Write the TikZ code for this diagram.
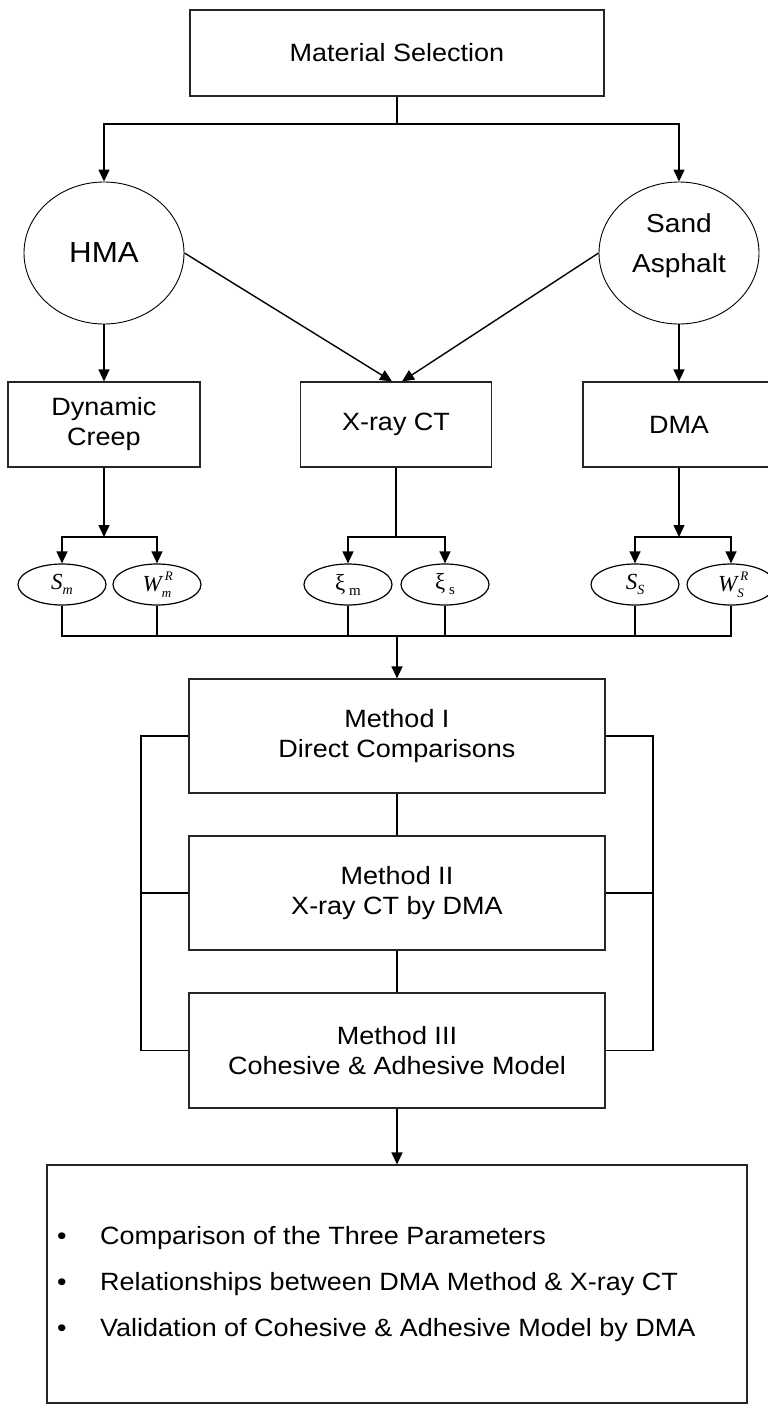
\documentclass[tikz,border=0pt]{standalone}
\usepackage{fontspec}
\setmainfont{Liberation Sans}[FakeStretch=1.08]
\newfontfamily\tms{Liberation Serif}
\usetikzlibrary{shapes.geometric,arrows.meta,calc}
\newcommand{\subsup}[2]{\rlap{\hspace{3pt}\raisebox{11pt}{\fontsize{13pt}{13pt}\selectfont #2}}\raisebox{-6pt}{\fontsize{13pt}{13pt}\selectfont #1}}
\begin{document}
\begin{tikzpicture}[x=1pt,y=-1pt,
  box/.style={draw=black!85,line width=1.2pt,rectangle,inner sep=0pt,align=center,font=\fontsize{25pt}{30pt}\selectfont},
  bigell/.style={draw,line width=0.9pt,ellipse,inner sep=0pt,minimum width=160pt,minimum height=142pt,align=center},
  smell/.style={draw,line width=1.2pt,ellipse,inner sep=0pt,minimum width=88pt,minimum height=41pt,font=\tms\fontsize{23pt}{23pt}\selectfont},
  con/.style={line width=1.4pt},
  arr/.style={con,-{Triangle[width=11pt,length=12pt]}},
  btxt/.style={anchor=base west,inner sep=0pt,font=\fontsize{25pt}{30pt}\selectfont}
]
\fill[white] (0,0) rectangle (768,1408);
\useasboundingbox (0,0) rectangle (768,1408);

% top
\node[box,minimum width=414pt,minimum height=86pt] (ms) at (397,53) {Material Selection};
\node[bigell,font=\fontsize{29pt}{34pt}\selectfont] (hma) at (104,253) {HMA};
\node[bigell] (sand) at (679,253) {};
\node[align=center,inner sep=0pt,font=\fontsize{26pt}{40pt}\selectfont] (sandt) at ($(sand.center)+(0,-7)$) {Sand\\Asphalt};

% test boxes
\node[box,minimum width=192pt,minimum height=85pt] (creep) at (104,424.5) {Dynamic\\Creep};
\node[box,minimum width=191pt,minimum height=85pt] (xray) at (396,424.5) {X-ray CT};
\node[box,minimum width=192pt,minimum height=85pt] (dma) at (679,424.5) {DMA};

% parameter ellipses
\node[smell] (sm) at (62,584.5) {\itshape S\raisebox{-5pt}{\fontsize{14pt}{14pt}\selectfont m}};
\node[smell] (wm) at (157,584.5) {\itshape W\subsup{m}{R}};
\node[smell] (xim) at (348,584.5) {ξ\,\raisebox{-5pt}{\fontsize{15pt}{15pt}\selectfont m}};
\node[smell] (xis) at (445,584.5) {ξ\,\raisebox{-5pt}{\fontsize{15pt}{15pt}\selectfont s}};
\node[smell] (ss) at (635,584.5) {\itshape S\raisebox{-5pt}{\fontsize{14pt}{14pt}\selectfont S}};
\node[smell] (ws) at (731,584.5) {\itshape W\subsup{S}{R}};

% methods
\node[box,minimum width=416pt,minimum height=114pt] (m1) at (397,736) {Method I\\Direct Comparisons};
\node[box,minimum width=416pt,minimum height=114pt] (m2) at (397,893) {Method II\\X-ray CT by DMA};
\node[box,minimum width=416pt,minimum height=115pt] (m3) at (397,1050.5) {Method III\\Cohesive \& Adhesive Model};

% final box
\node[box,minimum width=700pt,minimum height=238pt] (fin) at (397,1284) {};
\node[btxt] (b1) at (57,1244) {\makebox[43pt][l]{•}Comparison of the Three Parameters};
\node[btxt] (b2) at (57,1290) {\makebox[43pt][l]{•}Relationships between DMA Method \& X-ray CT};
\node[btxt] (b3) at (57,1336) {\makebox[43pt][l]{•}Validation of Cohesive \& Adhesive Model by DMA};

% connectors: top
\coordinate (br) at (397,124);
\draw[con] (ms.south) -- (br);
\draw[arr] (br) -| (hma.north);
\draw[arr] (br) -| (sand.north);
\draw[arr] (hma.east) -- ($(xray.north)+(-4,0)$);
\draw[arr] (sand.west) -- ($(xray.north)+(6,0)$);
\draw[arr] (hma.south) -- (creep.north);
\draw[arr] (sand.south) -- (dma.north);

% connectors: boxes to parameters
\coordinate (cb) at (104,537);
\coordinate (xb) at (396,537);
\coordinate (db) at (679,537);
\draw[arr] (creep.south) -- (cb);
\draw[arr] (cb) -| (sm.north);
\draw[arr] (cb) -| (wm.north);
\draw[con] (xray.south) -- (xb);
\draw[arr] (xb) -| (xim.north);
\draw[arr] (xb) -| (xis.north);
\draw[arr] (dma.south) -- (db);
\draw[arr] (db) -| (ss.north);
\draw[arr] (db) -| (ws.north);

% collector
\coordinate (cbar) at (397,636);
\foreach \n in {sm,wm,xim,xis,ss,ws} \draw[con] (\n.south) |- (cbar);
\draw[arr] (cbar) -- (m1.north);

% methods
\draw[con] (m1.south) -- (m2.north);
\draw[con] (m2.south) -- (m3.north);
\coordinate (lx) at (141,0);
\coordinate (rx) at (653,0);
\draw[con] (m1.west) -- (m1.west -| lx) -- (m3.west -| lx) -- (m3.west);
\draw[con] (m2.west) -- (m2.west -| lx);
\draw[con] (m1.east) -- (m1.east -| rx) -- (m3.east -| rx) -- (m3.east);
\draw[con] (m2.east) -- (m2.east -| rx);
\draw[arr] (m3.south) -- (fin.north);
\end{tikzpicture}
\end{document}
